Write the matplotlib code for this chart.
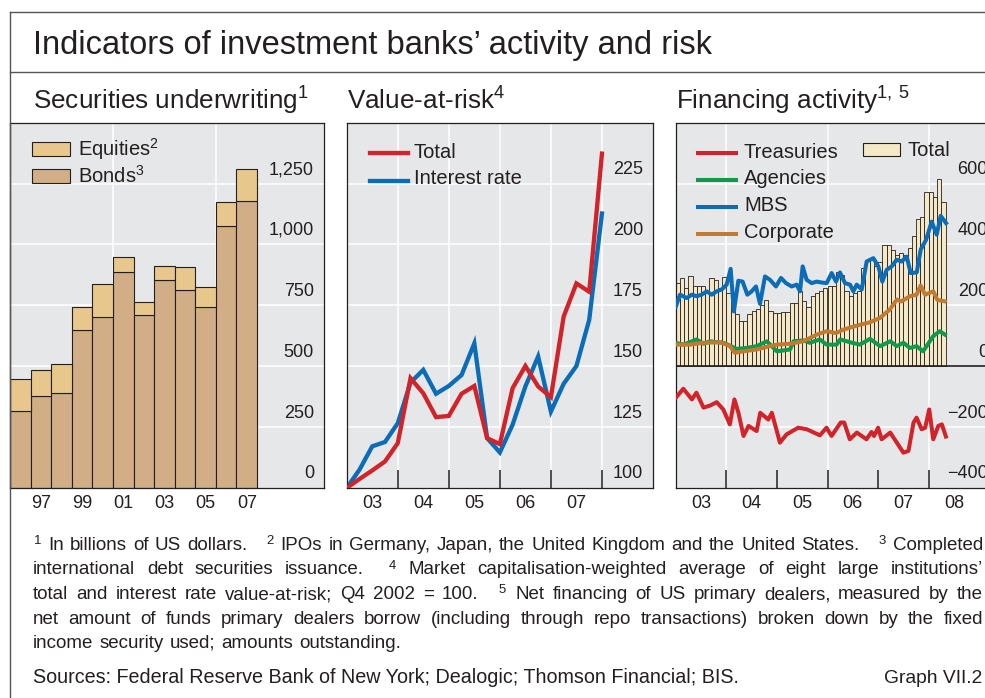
import matplotlib
matplotlib.use("Agg")
import matplotlib.pyplot as plt
from matplotlib.lines import Line2D
from matplotlib.patches import Rectangle
from matplotlib.transforms import blended_transform_factory, offset_copy
import numpy as np

plt.rcParams['font.family'] = ['Liberation Sans', 'DejaVu Sans']
plt.rcParams['mathtext.fontset'] = 'custom'
plt.rcParams['mathtext.rm'] = 'Liberation Sans'
plt.rcParams['mathtext.default'] = 'regular'

# ---------------- data ----------------
# securities underwriting, USD bn
uw_years = list(range(1996, 2008))
bonds = [317, 376, 392, 649, 701, 887, 712, 854, 813, 742, 1075, 1179]
equities = [130, 109, 118, 93, 135, 62, 50, 59, 94, 82, 98, 130]

# value-at-risk, quarterly, Q4 2002 = 100
var_total = [100, 103.7, 107.2, 110.9, 118.4, 145.1, 138.9, 129.1, 129.6, 138.7, 141.9,
             120.5, 118.0, 141.0, 150.1, 141.7, 137.3, 170.4, 184.0, 180.6, 237.3]
var_ir = [100, 107.5, 117.1, 118.9, 126.6, 143.3, 148.5, 138.7, 141.9, 146.4, 159.4,
          120.5, 114.6, 126.0, 141.7, 154.0, 131.4, 142.8, 150.1, 169.0, 212.7]

# financing activity, USD bn; monthly total Jan 2003 - Apr 2008
fin_total = [273, 290, 257, 296, 265, 265, 262, 240, 290, 282, 257, 294,
             240, 186, 170, 148, 148, 170, 180, 188, 200, 218, 180, 175,
             175, 177, 177, 208, 208, 246, 213, 195, 230, 240, 246, 257,
             262, 262, 311, 300, 246, 230, 240, 246, 322, 350, 355, 330,
             344, 399, 399, 383, 366, 372, 366, 388, 428, 484, 489, 573,
             573, 555, 615, 541]

mbs_dates = [2003.0, 2003.085, 2003.217, 2003.316, 2003.415, 2003.513, 2003.612, 2003.711,
             2003.809, 2003.908, 2004.007, 2004.086, 2004.15, 2004.238, 2004.323, 2004.416,
             2004.501, 2004.587, 2004.666, 2004.765, 2004.863, 2004.982, 2005.081, 2005.18,
             2005.292, 2005.391, 2005.457, 2005.509, 2005.588, 2005.687, 2005.786, 2005.885,
             2005.984, 2006.082, 2006.168, 2006.247, 2006.346, 2006.445, 2006.511, 2006.577,
             2006.676, 2006.774, 2006.906, 2007.005, 2007.084, 2007.17, 2007.269, 2007.367,
             2007.466, 2007.565, 2007.644, 2007.763, 2007.842, 2007.947, 2008.059, 2008.158,
             2008.237, 2008.343]
mbs = [195, 235, 224, 235, 230, 235, 246, 235, 246, 252, 268, 320, 180, 281, 278, 235,
       246, 262, 205, 295, 284, 262, 290, 273, 262, 268, 246, 328, 284, 273, 278, 275,
       273, 306, 278, 308, 273, 268, 246, 268, 252, 344, 355, 328, 278, 317, 328, 350,
       344, 360, 306, 308, 383, 415, 475, 432, 494, 470]

corp_dates = [2003.0, 2003.28, 2003.55, 2003.88, 2004.07, 2004.17, 2004.34, 2004.6, 2004.86,
              2005.0, 2005.26, 2005.52, 2005.79, 2005.98, 2006.17, 2006.31, 2006.57, 2006.83,
              2007.03, 2007.23, 2007.37, 2007.46, 2007.63, 2007.76, 2007.84, 2007.93, 2008.09,
              2008.17, 2008.32]
corporate = [71, 71, 77, 79, 66, 44, 49, 55, 66, 71, 74, 82, 104, 115, 109, 120, 133, 144,
             158, 186, 219, 213, 230, 235, 265, 235, 246, 218, 213]

agen_dates = [2003.0, 2003.15, 2003.28, 2003.41, 2003.55, 2003.68, 2003.81, 2003.94, 2004.07,
              2004.2, 2004.4, 2004.6, 2004.8, 2005.0, 2005.26, 2005.33, 2005.52, 2005.65,
              2005.85, 2005.98, 2006.18, 2006.25, 2006.44, 2006.64, 2006.84, 2007.04, 2007.24,
              2007.37, 2007.5, 2007.63, 2007.76, 2007.89, 2008.09, 2008.22, 2008.32]
agencies = [77, 71, 79, 88, 74, 82, 79, 77, 68, 57, 60, 66, 82, 49, 55, 82, 85, 77, 88, 71,
            71, 88, 79, 71, 90, 66, 82, 66, 77, 60, 66, 49, 99, 115, 104]

tsy_dates = [2003.0, 2003.15, 2003.32, 2003.41, 2003.55, 2003.68, 2003.81, 2003.94, 2004.07,
             2004.16, 2004.24, 2004.34, 2004.44, 2004.6, 2004.67, 2004.83, 2004.9, 2005.06,
             2005.19, 2005.42, 2005.59, 2005.85, 2005.98, 2006.08, 2006.26, 2006.33, 2006.44,
             2006.58, 2006.77, 2006.87, 2006.92, 2007.0, 2007.07, 2007.24, 2007.5, 2007.6,
             2007.7, 2007.76, 2007.86, 2007.93, 2008.01, 2008.09, 2008.19, 2008.26, 2008.34]
treasuries = [-104, -74, -109, -87, -136, -129, -118, -142, -191, -109, -153, -229, -196,
              -213, -153, -175, -153, -251, -224, -202, -207, -227, -202, -229, -185, -185,
              -240, -218, -240, -216, -229, -202, -240, -218, -284, -278, -185, -169, -207,
              -202, -142, -240, -196, -191, -231]

# ---------------- style ----------------
W, H = 985, 698
txt = '#231f20'
bg = '#e6e7e8'
red = '#d2232a'
blue = '#0b6db7'
green = '#10994a'
orange = '#c27a30'
bond_c = '#d1ae86'
eq_c = '#e7c78c'
fin_c = '#f4e8c6'

fig = plt.figure(figsize=(W / 100, H / 100), dpi=100)


def fx(x):
    return x / W


def fy(y):
    return 1 - y / H


def px_rect(x0, y0, x1, y1):
    return [fx(x0), fy(y1), (x1 - x0) / W, (y1 - y0) / H]


def style_axes(ax):
    ax.set_facecolor(bg)
    for s in ax.spines.values():
        s.set_color(txt)
        s.set_linewidth(0.9)
    ax.tick_params(axis='y', left=False, labelleft=False)
    ax.tick_params(axis='x', which='both', labelsize=13, colors=txt, length=0, pad=5)


def ylabels(ax, vals, labs):
    base = blended_transform_factory(ax.transAxes, ax.transData)
    tr = offset_copy(base, fig=fig, x=-10, y=9.5, units='dots')
    for v, l in zip(vals, labs):
        ax.text(1, v, l, transform=tr, ha='right', va='baseline', fontsize=13,
                color=txt, clip_on=False)


def hgrid(ax, vals):
    for v in vals:
        ax.axhline(v, color='white', lw=1.1, zorder=0.5)


def vgrid(ax, vals):
    for v in vals:
        ax.axvline(v, color='white', lw=1.1, zorder=0.5)


# ---------------- frame and titles ----------------
fig.add_artist(Line2D([fx(10), fx(10)], [fy(12), fy(698)], color='#555555', lw=1.0))
fig.add_artist(Line2D([fx(10), fx(985)], [fy(12), fy(12)], color='#555555', lw=1.0))
fig.add_artist(Line2D([fx(10), fx(985)], [fy(72), fy(72)], color='#555555', lw=1.0))
fig.text(fx(33), fy(54), 'Indicators of investment banks’ activity and risk',
         fontsize=23.5, color=txt, va='baseline')
fig.text(fx(33), fy(110), 'Securities underwriting$^1$', fontsize=18.8, color=txt, va='baseline')
fig.text(fx(347), fy(110), 'Value-at-risk$^4$', fontsize=18.8, color=txt, va='baseline')
fig.text(fx(676), fy(110), 'Financing activity$^{1,\\,5}$', fontsize=18.8, color=txt, va='baseline')

# ---------------- left: securities underwriting ----------------
ax1 = fig.add_axes(px_rect(10, 122.7, 324, 488))
style_axes(ax1)
ax1.bar(uw_years, bonds, width=1.0, color=bond_c, edgecolor=txt, lw=0.8, zorder=2)
ax1.bar(uw_years, equities, bottom=bonds, width=1.0, color=eq_c, edgecolor=txt, lw=0.8, zorder=2)
ax1.set_xlim(1995.5, 2010.75)
ax1.set_ylim(0, 1500)
hgrid(ax1, [250, 500, 750, 1000, 1250])
vgrid(ax1, [2000.5, 2005.5])
ax1.set_xticks([1997, 1999, 2001, 2003, 2005, 2007], ['97', '99', '01', '03', '05', '07'])
ylabels(ax1, [0, 250, 500, 750, 1000, 1250], ['0', '250', '500', '750', '1,000', '1,250'])

fig.add_artist(Rectangle((fx(32), fy(156)), 38 / W, 14 / H, facecolor=eq_c, edgecolor=txt, lw=0.8))
fig.add_artist(Rectangle((fx(32), fy(183)), 38 / W, 14 / H, facecolor=bond_c, edgecolor=txt, lw=0.8))
fig.text(fx(78), fy(149), 'Equities$^2$', fontsize=14.5, color=txt, va='center')
fig.text(fx(78), fy(176), 'Bonds$^3$', fontsize=14.5, color=txt, va='center')

# ---------------- middle: value-at-risk ----------------
ax2 = fig.add_axes(px_rect(346.7, 122.7, 653, 488))
style_axes(ax2)
q_dates = 2003 + 0.25 * np.arange(len(var_total))
ax2.plot(q_dates, var_total, color=red, lw=3.1, zorder=3, solid_joinstyle='miter')
ax2.plot(q_dates, var_ir, color=blue, lw=3.1, zorder=2.5, solid_joinstyle='miter')
ax2.set_xlim(2003, 2009)
ax2.set_ylim(100, 250)
hgrid(ax2, [125, 150, 175, 200, 225])
vgrid(ax2, [2004, 2005, 2006, 2007, 2008])
ax2.set_xticks([2004, 2005, 2006, 2007, 2008])
ax2.set_xticks([2003.5, 2004.5, 2005.5, 2006.5, 2007.5], ['03', '04', '05', '06', '07'], minor=True)
ax2.tick_params(axis='x', which='major', direction='in', length=13, width=1.1,
                color=txt, labelbottom=False)
ylabels(ax2, [100, 125, 150, 175, 200, 225], ['100', '125', '150', '175', '200', '225'])

fig.add_artist(Line2D([fx(370), fx(408)], [fy(153), fy(153)], color=red, lw=3.1))
fig.add_artist(Line2D([fx(370), fx(408)], [fy(180.7), fy(180.7)], color=blue, lw=3.1))
fig.text(fx(414), fy(152), 'Total', fontsize=14.5, color=txt, va='center')
fig.text(fx(414), fy(179), 'Interest rate', fontsize=14.5, color=txt, va='center')

# ---------------- right: financing activity ----------------
ax3 = fig.add_axes(px_rect(675.7, 122.7, 998, 488))
style_axes(ax3)
m_dates = 2003 + np.arange(len(fin_total)) / 12
ax3.bar(m_dates, fin_total, width=1 / 12, align='edge', color=fin_c, edgecolor=txt,
        lw=0.6, zorder=2)
ax3.plot(agen_dates, agencies, color=green, lw=2.9, zorder=3)
ax3.plot(corp_dates, corporate, color=orange, lw=2.9, zorder=3.1)
ax3.plot(mbs_dates, mbs, color=blue, lw=2.9, zorder=3.2)
ax3.plot(tsy_dates, treasuries, color=red, lw=2.9, zorder=3)
ax3.axhline(0, color=txt, lw=1.2, zorder=4)
ax3.set_xlim(2003, 2003 + (998 - 675.7) / 50.6)
ax3.set_ylim(-400, 800)
hgrid(ax3, [-200, 200, 400, 600])
vgrid(ax3, [2004, 2006, 2008])
ax3.set_xticks([2004, 2005, 2006, 2007, 2008])
ax3.set_xticks([2003.5, 2004.5, 2005.5, 2006.5, 2007.5, 2008.5],
               ['03', '04', '05', '06', '07', '08'], minor=True)
ax3.tick_params(axis='x', which='major', direction='in', length=13, width=1.1,
                color=txt, labelbottom=False)
ylabels(ax3, [-400, -200, 0, 200, 400, 600], ['\u2212400', '\u2212200', '0', '200', '400', '600'])

for yy, col, lab in [(153.3, red, 'Treasuries'), (180, green, 'Agencies'),
                     (206.7, blue, 'MBS'), (234, orange, 'Corporate')]:
    fig.add_artist(Line2D([fx(698), fx(736)], [fy(yy), fy(yy)], color=col, lw=2.9))
    fig.text(fx(744), fy(yy - 1), lab, fontsize=14.5, color=txt, va='center')
fig.add_artist(Rectangle((fx(862.7), fy(156)), 37.5 / W, 13 / H, facecolor=fin_c,
                         edgecolor=txt, lw=0.8))
fig.text(fx(907), fy(151), 'Total', fontsize=14.5, color=txt, va='center')

# ---------------- footnotes ----------------
foot_lines = [
    '$^1$ In billions of US dollars. || $^2$ IPOs in Germany, Japan, the United Kingdom and the United States. || $^3$ Completed',
    'international debt securities issuance. || $^4$ Market capitalisation-weighted average of eight large institutions’',
    'total and interest rate value-at-risk; Q4 2002 = 100. || $^5$ Net financing of US primary dealers, measured by the',
    'net amount of funds primary dealers borrow (including through repo transactions) broken down by the fixed',
    'income security used; amounts outstanding.',
]
foot_base = [550, 574.5, 599, 623.5, 648]
renderer = fig.canvas.get_renderer()
x_left, x_right, sep_extra, fs = 33, 983, 12, 13.5
space = 0.278 * fs * 100 / 72
for i, (line, yb) in enumerate(zip(foot_lines, foot_base)):
    words = line.split(' ')
    items, seps = [], []
    pending = False
    for w in words:
        if w == '||':
            pending = True
            continue
        items.append(fig.text(0, fy(yb), w, fontsize=fs, color=txt, va='baseline'))
        seps.append(pending)
        pending = False
    widths = [t.get_window_extent(renderer).width for t in items]
    n_gap = len(items) - 1
    n_sep = sum(seps)
    if i < len(foot_lines) - 1:
        gap = (x_right - x_left - sum(widths) - n_sep * sep_extra) / n_gap
        gap = max(gap, 2.5)
    else:
        gap = space * 1.15
    x = x_left
    for t, w, s in zip(items, widths, seps):
        if s:
            x += sep_extra
        t.set_x(fx(x))
        x += w + gap

fig.text(fx(33), fy(683), 'Sources: Federal Reserve Bank of New York; Dealogic; Thomson Financial; BIS.',
         fontsize=14.2, color=txt, va='baseline')
fig.text(fx(982), fy(683), 'Graph VII.2', fontsize=13.9, color=txt, va='baseline', ha='right')

fig.savefig('out.png', dpi=100)
